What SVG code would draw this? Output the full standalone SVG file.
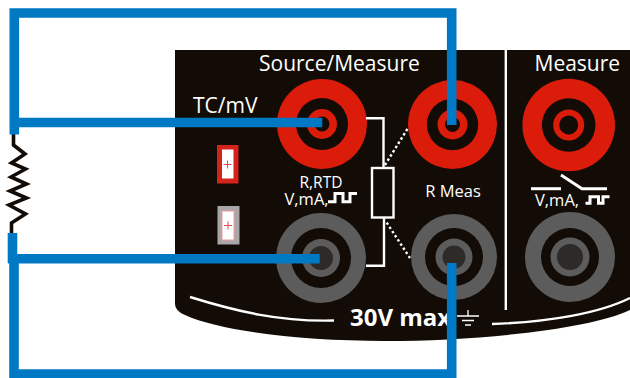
<svg xmlns="http://www.w3.org/2000/svg" width="630" height="378" viewBox="0 0 630 378">
<style>
text{font-family:"Open Sans","Noto Sans","Liberation Sans",sans-serif;fill:#fff}
.t{font-size:21px}
.s{font-size:15.500px}
.v{font-size:16.500px}
.l{fill:none;stroke:#fff;stroke-width:2.400}
.w{fill:none;stroke:#fff;stroke-width:3}
.g{fill:none;stroke:#fff;stroke-width:1.300}
.d{fill:none;stroke:#fff;stroke-width:2.400;stroke-dasharray:2.400 2.600}
.red{fill:#dc1c0b}.gry{fill:#5c5c5c}.blk{fill:#130c06}.hole{fill:#2e2a28}
.wire{fill:none;stroke:#0079c5;stroke-width:9.600;stroke-linejoin:miter;stroke-linecap:butt}
</style>
<g id="panel">
<path class="blk" d="M175 50H630V310C590 329 480 341 385 341C300 341 220 331 185 315Q175 311 175 304Z"/>
<path class="l" d="M505.800 50V310"/>
<path class="l" d="M190 297C235 311 280 322 334 320.500"/>
<path class="l" d="M492 324C550 322 600 313 630 298"/>
<text class="t" x="259" y="71">Source/Measure</text>
<text class="t" x="534.500" y="71">Measure</text>
<text class="t" x="193" y="113">TC/mV</text>
<text class="s" x="321" y="188" text-anchor="middle">R,RTD</text>
<text class="v" x="284.500" y="205">V,mA,</text>
<text class="v" x="453" y="197" text-anchor="middle">R Meas</text>
<text x="350" y="326" font-size="24" font-weight="700">30V max</text>
<path class="w" d="M328 201.700H335V193.500H343V201.700H350V193.500H357"/>
<path class="w" d="M531 188.700H561"/>
<path class="w" d="M561 175L582 188.700H607"/>
<text class="v" x="535" y="205.500">V,mA,</text>
<path class="w" d="M585.500 203.300H590V196.700H598.500V203.300H603V196.700H609.500"/>
<path class="g" d="M468 310V316M457 316H479M462 320.500H474M465 325H471"/>
</g>
<g id="terminal-tc-plus">
<circle class="red" cx="322" cy="124" r="45"/><circle class="blk" cx="322" cy="124" r="26"/><circle class="red" cx="322" cy="124" r="15"/><circle class="blk" cx="322" cy="124" r="7.500"/>
</g>
<g id="terminal-rmeas-plus">
<circle class="red" cx="452.500" cy="124.500" r="44.500"/><circle class="blk" cx="452.500" cy="124.500" r="25.700"/><circle class="red" cx="452.500" cy="124.500" r="15"/><circle class="blk" cx="452.500" cy="124.500" r="7.500"/>
</g>
<g id="terminal-measure-plus">
<circle class="red" cx="568.700" cy="125" r="46.300"/><circle class="blk" cx="568.700" cy="125" r="26.800"/><circle class="red" cx="568.700" cy="125" r="15.500"/><circle class="blk" cx="568.700" cy="125" r="9.500"/>
</g>
<g id="terminal-tc-minus">
<circle class="gry" cx="321" cy="258" r="45"/><circle class="blk" cx="321" cy="258" r="30"/><circle class="gry" cx="321" cy="258" r="19"/><circle class="hole" cx="321" cy="258" r="12"/>
</g>
<g id="terminal-rmeas-minus">
<circle class="gry" cx="454" cy="257" r="43"/><circle class="blk" cx="454" cy="257" r="29"/><circle class="gry" cx="454" cy="257" r="18.500"/><circle class="hole" cx="454" cy="257" r="11.500"/>
</g>
<g id="terminal-measure-minus">
<circle class="gry" cx="570" cy="257" r="45"/><circle class="blk" cx="570" cy="257" r="29"/><circle class="gry" cx="570" cy="257" r="19.500"/><circle class="hole" cx="570" cy="257" r="13"/>
</g>
<g id="socket-red">
<rect x="217" y="145" width="21.500" height="38.500" fill="#d3231a"/><rect x="222" y="149.500" width="11.500" height="29" fill="#fff"/><path d="M223.500 164.500H231.500M227.500 160.500V168.500" fill="none" stroke="#e8474a"/>
</g>
<g id="socket-gray">
<rect x="217.500" y="206" width="22" height="38.500" fill="#a8a6a8"/><rect x="222" y="211" width="12" height="29" fill="#fff" stroke="#ee9a98"/><path d="M224 225.500H232M228 221.500V229.500" fill="none" stroke="#e8474a"/>
</g>
<g id="r-meas-symbol">
<path class="l" d="M366 118.300H383.500V167.700M384 217.300V265.700H366"/>
<rect class="l" x="372" y="168" width="21.500" height="49.500"/>
<path class="d" d="M385 165L408 128"/>
<path class="d" d="M386.700 222.700L410 258"/>
</g>
<g id="resistor">
<path fill="none" stroke="#130c06" stroke-width="3.600" stroke-linejoin="miter" d="M13.500 134V145L25 154L11.500 163L25.500 169L11 177L26.500 184L10 191L26.500 198L9 205L25.500 214L11.500 223V233"/>
</g>
<g id="connectors">
<path class="wire" d="M451.700 125V13H14.300V134.500M9.500 122.500H322.300"/>
<path class="wire" d="M12.500 233V263M8 258.800H319.700M14 258.800V374H451.700V263"/>
</g>
</svg>
